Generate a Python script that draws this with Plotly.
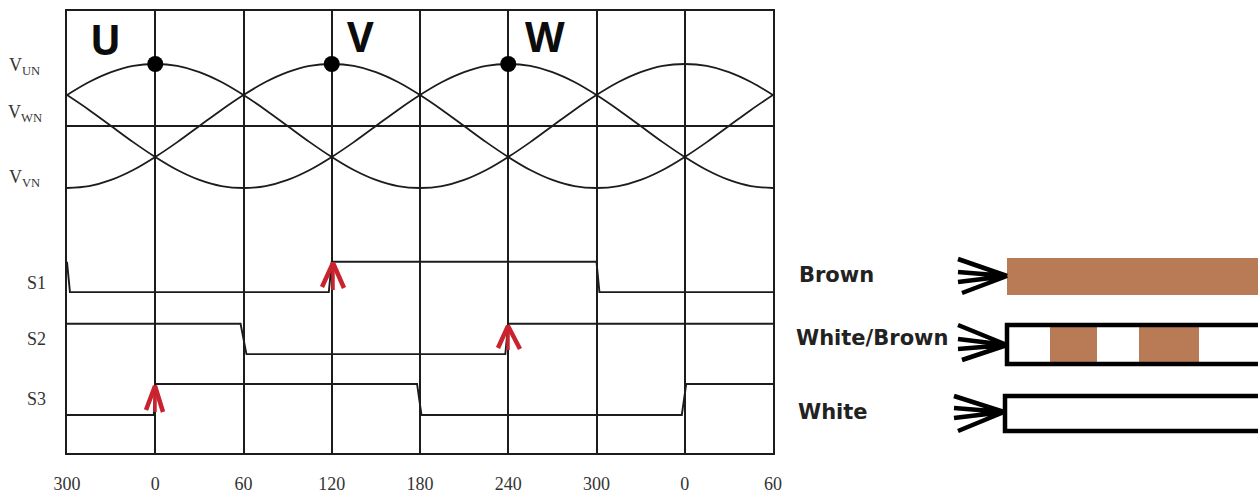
import plotly.graph_objects as go

# ---- waveform data (degrees on the x axis)
angle = [-60,-45,-30,-15,0,15,30,45,60,75,90,105,120,135,150,165,180,195,210,225,240,255,270,285,300,315,330,345,360,375,390,405,420]
v_un = [0.5,0.71,0.87,0.97,1,0.97,0.87,0.71,0.5,0.26,0,-0.26,-0.5,-0.71,-0.87,-0.97,-1,-0.97,-0.87,-0.71,-0.5,-0.26,0,0.26,0.5,0.71,0.87,0.97,1,0.97,0.87,0.71,0.5]
v_vn = [-1,-0.97,-0.87,-0.71,-0.5,-0.26,0,0.26,0.5,0.71,0.87,0.97,1,0.97,0.87,0.71,0.5,0.26,0,-0.26,-0.5,-0.71,-0.87,-0.97,-1,-0.97,-0.87,-0.71,-0.5,-0.26,0,0.26,0.5]
v_wn = [0.5,0.26,0,-0.26,-0.5,-0.71,-0.87,-0.97,-1,-0.97,-0.87,-0.71,-0.5,-0.26,0,0.26,0.5,0.71,0.87,0.97,1,0.97,0.87,0.71,0.5,0.26,0,-0.26,-0.5,-0.71,-0.87,-0.97,-1]
zero_x = [-60, 420]
zero_y = [0, 0]
peak_x = [0, 120, 240]
peak_y = [1, 1, 1]

s1_x = [-60,-58,118,120,300,302,420]
s1_y = [-2.19,-2.68,-2.68,-2.19,-2.19,-2.68,-2.68]
s2_x = [-60,58,62,238,240,420]
s2_y = [-3.19,-3.19,-3.68,-3.68,-3.19,-3.19]
s3_x = [-60,-1,0,178,181,358,361,420]
s3_y = [-4.66,-4.66,-4.16,-4.16,-4.66,-4.66,-4.16,-4.16]

tick_vals = [-60,0,60,120,180,240,300,360,420]
tick_text = ["300","0","60","120","180","240","300","0","60"]

# ---- annotation overlay content (page pixel axes)
arrow_x = [[322,333,344],[498,508,520],[146,155,163]]
arrow_y = [[287,263,288],[348,326,349],[410,386,412]]
arrow_stem_x = [[333,333],[508,508],[155,155]]
arrow_stem_y = [[263,290],[326,350],[386,412]]

fan_x = [[958,1007,958,1007,958,1007,962,1007],
         [958,1007,958,1007,958,1007,962,1007],
         [954,1004,954,1004,954,1004,958,1004]]
fan_y = [[259,276,272,276,282,276,293,276],
         [325,345,339,345,349,345,360,345],
         [396,412,408,412,418,412,431,412]]

wire_labels = ["Brown", "White/Brown", "White"]
wire_label_x = [797, 794, 796]
wire_label_y = [275, 338, 412]
big_labels = ["U", "V", "W"]
big_x = [105, 360, 545]
big_y = [39, 36, 36]
sig_labels = ["V<sub>UN</sub>", "V<sub>WN</sub>", "V<sub>VN</sub>", "S1", "S2", "S3"]
sig_x = [24, 25, 24, 36, 36, 36]
sig_y = [66, 113, 178, 283, 339, 399]

INK = "#1c1c1c"
BROWN = "#b87b56"
RED = "#c9232f"

fig = go.Figure()

for xs, ys in [(angle, v_un), (angle, v_vn), (angle, v_wn)]:
    fig.add_trace(go.Scatter(x=xs, y=ys, mode="lines", line=dict(color=INK, width=1.8, shape="spline"), hoverinfo="skip"))
fig.add_trace(go.Scatter(x=zero_x, y=zero_y, mode="lines", line=dict(color=INK, width=1.8), hoverinfo="skip"))
for xs, ys in [(s1_x, s1_y), (s2_x, s2_y), (s3_x, s3_y)]:
    fig.add_trace(go.Scatter(x=xs, y=ys, mode="lines", line=dict(color=INK, width=1.9), hoverinfo="skip"))
fig.add_trace(go.Scatter(x=peak_x, y=peak_y, mode="markers", marker=dict(color="#000000", size=16), hoverinfo="skip"))

for xs, ys in zip(arrow_stem_x, arrow_stem_y):
    fig.add_trace(go.Scatter(x=xs, y=ys, xaxis="x2", yaxis="y2", mode="lines", line=dict(color=RED, width=3.5), hoverinfo="skip"))
for xs, ys in zip(arrow_x, arrow_y):
    fig.add_trace(go.Scatter(x=xs, y=ys, xaxis="x2", yaxis="y2", mode="lines", line=dict(color=RED, width=4.5), hoverinfo="skip"))
for xs, ys in zip(fan_x, fan_y):
    fig.add_trace(go.Scatter(x=xs, y=ys, xaxis="x2", yaxis="y2", mode="lines", line=dict(color="#000000", width=4.5), hoverinfo="skip"))

rects = [
    (1007, 258, 1258, 295, BROWN),
    (1050, 325, 1097, 364, BROWN),
    (1139, 325, 1199, 364, BROWN),
]
for x0, y0, x1, y1, fc in rects:
    fig.add_shape(type="rect", xref="x2", yref="y2", x0=x0, y0=y0, x1=x1, y1=y1, fillcolor=fc, line_width=0, layer="below")
for xs, ys in [([1258,1007,1007,1258],[325,325,364,364]), ([1258,1005,1005,1258],[396,396,431,431])]:
    fig.add_trace(go.Scatter(x=xs, y=ys, xaxis="x2", yaxis="y2", mode="lines", line=dict(color="#000000", width=4.5), hoverinfo="skip"))

for t, x, y in zip(wire_labels, wire_label_x, wire_label_y):
    fig.add_annotation(text=f"<b>{t}</b>", xref="x2", yref="y2", x=x, y=y, xanchor="left", yanchor="middle", showarrow=False,
                       font=dict(family="DejaVu Sans", size=21, color="#222222"))
for t, x, y in zip(big_labels, big_x, big_y):
    fig.add_annotation(text=f"<b>{t}</b>", xref="x2", yref="y2", x=x, y=y, xanchor="center", yanchor="middle", showarrow=False,
                       font=dict(family="Open Sans", size=41, color="#0c0c0c"))
for t, x, y in zip(sig_labels, sig_x, sig_y):
    fig.add_annotation(text=t, xref="x2", yref="y2", x=x, y=y, xanchor="center", yanchor="middle", showarrow=False,
                       font=dict(family="Liberation Serif", size=18, color="#333333"))

fig.update_layout(
    width=1258, height=495, margin=dict(l=0, r=0, t=0, b=0, autoexpand=False), showlegend=False,
    paper_bgcolor="rgba(0,0,0,0)", plot_bgcolor="rgba(0,0,0,0)",
    xaxis=dict(domain=[67/1258, 773/1258], range=[-60, 420], tickmode="array", tickvals=tick_vals, ticktext=tick_text,
               showgrid=True, gridcolor=INK, gridwidth=1.8, zeroline=False, showline=True, linecolor=INK, linewidth=1.8, mirror=True,
               ticks="outside", ticklen=13, tickcolor="rgba(0,0,0,0)", automargin=False,
               tickfont=dict(family="Liberation Serif", size=18, color="#333333")),
    yaxis=dict(domain=[(495-453)/495, (495-11)/495], range=[-5.274, 1.855], showgrid=False, zeroline=False, showticklabels=False,
               showline=True, linecolor=INK, linewidth=1.8, mirror=True, ticks="", automargin=False),
    xaxis2=dict(domain=[0, 1], range=[0, 1258], visible=False, anchor="y2"),
    yaxis2=dict(domain=[0, 1], range=[495, 0], visible=False, anchor="x2"),
)

fig.write_html("out.html", config={"displayModeBar": False}, post_script="document.body.style.margin='0';")
